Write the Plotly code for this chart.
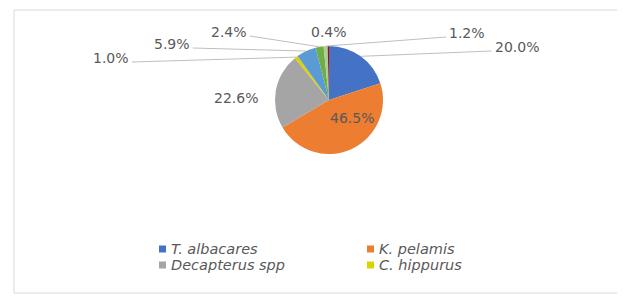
import math
import plotly.graph_objects as go

# ---- data ----
species = ["T. albacares", "K. pelamis", "Decapterus spp", "C. hippurus",
           "Other 1", "Other 2", "Other 3", "Other 4"]
percent = [20.0, 46.5, 22.6, 1.0, 5.9, 2.4, 1.2, 0.4]
legend_species = ["T. albacares", "K. pelamis", "Decapterus spp", "C. hippurus"]

# ---- styling ----
colors = ["#4472C4", "#ED7D31", "#A5A5A5", "#D9D400",
          "#5B9BD5", "#70AD47", "#A9D18E", "#C00000"]
W, H = 627, 303          # page size
OFF = 8                  # default body margin of the html page
FW, FH = W - 2 * OFF, H - 2 * OFF   # keep the page free of scrollbars
CX, CY, R = 329, 100, 54          # pie centre / radius in page pixels
TXT = "#595959"
FONT = "DejaVu Sans"

# label placement (page pixel centres) and whether a leader line is drawn
label_pos = [(517, 47), (352, 118), (236, 98), (111, 58),
             (172, 44), (229, 32), (467, 33), (329, 32)]
leader = [True, False, False, True, True, True, True, False]


def px(x):
    return (x - OFF) / FW


def py(y):
    return 1 - (y - OFF) / FH


fig = go.Figure(go.Pie(
    labels=species, values=percent, sort=False, direction="clockwise",
    rotation=0, textinfo="none", hoverinfo="label+percent",
    marker=dict(colors=colors, line=dict(width=0)),
    domain=dict(x=[px(CX - R), px(CX + R)], y=[py(CY + R), py(CY - R)]),
    showlegend=False,
))

shapes = []
annotations = []

# chart frame (top, left, bottom edges visible; right edge off-page)
frame = dict(color="#D9D9D9", width=1)
right = OFF + FW - 2
for x0, y0, x1, y1 in [(14, 10, right, 10), (14, 10, 14, 293), (14, 293, right, 293)]:
    shapes.append(dict(type="line", xref="paper", yref="paper",
                       x0=px(x0), y0=py(y0), x1=px(x1), y1=py(y1), line=frame))

total = sum(percent)
cum = 0.0
for i, v in enumerate(percent):
    mid = (cum + v / 2) / total * 2 * math.pi
    cum += v
    ex = CX + R * math.sin(mid)
    ey = CY - R * math.cos(mid)
    lx, ly = label_pos[i]
    text = f"{v:.1f}%"
    annotations.append(dict(x=px(lx), y=py(ly), xref="paper", yref="paper",
                            xanchor="center", yanchor="middle",
                            text=text, showarrow=False,
                            font=dict(family=FONT, size=14, color=TXT)))
    if leader[i]:
        half = len(text) * 4.7
        sx = lx + half + 2 if lx < CX else lx - half - 2
        sy = ly + 4
        shapes.append(dict(type="line", xref="paper", yref="paper",
                           x0=px(sx), y0=py(sy), x1=px(ex), y1=py(ey),
                           line=dict(color="#BFBFBF", width=1)))

# legend (only the four named species are shown in the original)
leg_xy = [(159, 249), (367, 249), (159, 265), (367, 265)]
for name, (lx, ly) in zip(legend_species, leg_xy):
    c = colors[species.index(name)]
    shapes.append(dict(type="rect", xref="paper", yref="paper",
                       x0=px(lx), x1=px(lx + 7), y0=py(ly + 3.5), y1=py(ly - 3.5),
                       fillcolor=c, line=dict(width=0)))
    annotations.append(dict(x=px(lx + 10), y=py(ly), xref="paper", yref="paper",
                            xanchor="left", yanchor="middle",
                            text=f"<i>{name}</i>", showarrow=False,
                            font=dict(family=FONT, size=14.5, color=TXT)))

fig.update_layout(width=FW, height=FH, margin=dict(l=0, r=0, t=0, b=0),
                  paper_bgcolor="white", plot_bgcolor="white",
                  shapes=shapes, annotations=annotations)

fig.write_html("out.html")
